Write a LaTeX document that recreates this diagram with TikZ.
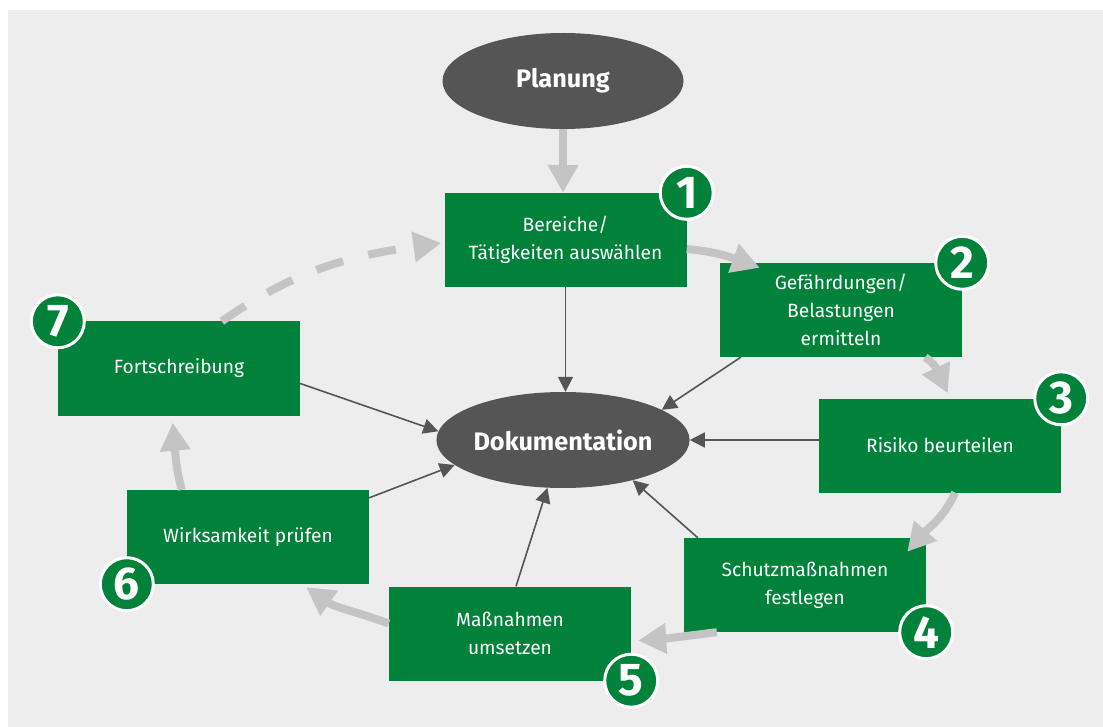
\documentclass[tikz,border=0pt]{standalone}
\usepackage{fontspec}
\setmainfont{Fira Sans}
\usetikzlibrary{arrows.meta,calc,shapes.geometric}
\definecolor{bg}{HTML}{EDEDED}
\definecolor{grn}{HTML}{00823A}
\definecolor{dk}{HTML}{555555}
\definecolor{lg}{HTML}{C4C4C4}
\begin{document}
\begin{tikzpicture}[x=1pt,y=-1pt,
  box/.style={fill=grn, text=white, minimum width=242pt, minimum height=94pt, align=center, inner sep=0pt, font=\fontsize{19.2}{28}\selectfont},
  oval/.style={ellipse, fill=dk, text=white, minimum width=241pt, minimum height=96pt, inner sep=0pt, font=\bfseries\fontsize{25.3}{28}\selectfont},
  badge/.style={circle, fill=grn, draw=white, line width=3pt, minimum size=53pt, inner sep=0pt, text=white, font=\bfseries\fontsize{46}{46}\selectfont},
  flow/.style={draw=lg, line width=8pt, -{Triangle[width=29pt,length=28pt]}},
  dflow/.style={flow, dash pattern=on 28pt off 26pt},
  doc/.style={draw=dk, line width=1.6pt, -{Triangle[width=15pt,length=15pt]}}]
\useasboundingbox (0,0) rectangle (1103,727);
\fill[white] (0,0) rectangle (1103,727);
\fill[bg] (8,10) rectangle (1103,727);

\node[oval] (plan) at (563,81) {Planung};
\node[oval] (doc) at (563,440) {Dokumentation};

\node[box] (b1) at (565.5,240) {Bereiche/\\Tätigkeiten auswählen};
\node[box] (b2) at (841,310) {Gefährdungen/\\Belastungen\\ermitteln};
\node[box] (b3) at (940,445.5) {Risiko beurteilen};
\node[box] (b4) at (805,585) {Schutzmaßnahmen\\festlegen};
\node[box] (b5) at (510,633.5) {Maßnahmen\\umsetzen};
\node[box] (b6) at (248,537) {Wirksamkeit prüfen};
\node[box] (b7) at (179,368.5) {Fortschreibung};

% dark arrows to Dokumentation
\draw[doc] (b1.south) -- (b1.south |- doc.north);
\draw[doc] ($(b2.south west)+(21,0)$) -- (doc.17);
\draw[doc] (doc.east -| b3.west) -- (doc.east);
\draw[doc] ($(b4.north west)+(14,0)$) -- (doc.-30);
\draw[doc] ($(b5.north)+(6,0)$) -- (doc.-108);
\draw[doc] ($(b6.north east)+(0,8)$) -- (doc.-167);
\draw[doc] ($(b7.east)+(0,15)$) -- (doc.176);

% gray cycle arrows
\draw[flow] (plan.south) -- (plan.south |- b1.north);
\draw[flow] ($(b1.east)+(0,9)$) to[out=-5,in=160] ($(b2.north west)+(40,5)$);
\draw[flow] ($(b2.south east)+(-37,0)$) to[out=-35,in=115] ($(b3.north west)+(129,-5)$);
\draw[flow] ($(b3.south east)+(-106,0)$) to[out=-115,in=49] ($(b4.north east)+(-19,14)$);
\draw[flow] ($(b4.south west)+(33,0)$) to[out=187,in=4] ($(b5.east)+(7,7)$);
\draw[flow] ($(b5.west)+(0,-10)$) to[out=160,in=-35] ($(b6.south east)+(-63,3)$);
\draw[flow] ($(b6.north west)+(55,0)$) to[out=105,in=-85] ($(b7.south west)+(115,7)$);
\draw[dflow] ($(b7.north west)+(164,0)$) to[out=35,in=188] ($(b1.west)+(-3,3)$);

% badges
\node[badge] (n1) at (b1.north east) {1};
\node[badge] (n2) at (b2.north east) {2};
\node[badge] (n3) at (b3.north east) {3};
\node[badge] (n4) at (b4.south east) {4};
\node[badge] (n5) at (b5.south east) {5};
\node[badge] (n6) at (b6.south west) {6};
\node[badge] (n7) at (b7.north west) {7};
\end{tikzpicture}
\end{document}
